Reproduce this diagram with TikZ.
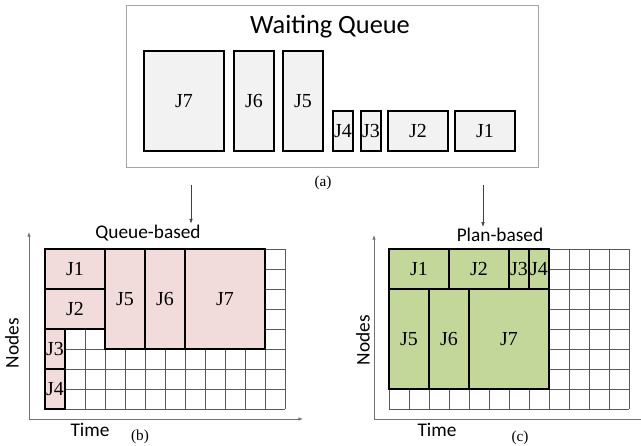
\documentclass[tikz,border=0pt]{standalone}
\usepackage{fontspec}
\setmainfont{Liberation Serif}
\newfontfamily\labelfont{Carlito}
\usetikzlibrary{positioning, arrows.meta}

\definecolor{waitgray}{HTML}{F2F2F2}
\definecolor{queuepink}{HTML}{F2DCDB}
\definecolor{plangreen}{HTML}{C4D79B}

\tikzset{
  job/.style={draw=black, line width=1.5pt, outer sep=0pt, inner sep=0pt, anchor=south west, font=\fontsize{17}{17}\selectfont},
  gridline/.style={draw=black!65, line width=0.5pt},
  axis/.style={draw=black!55, line width=0.6pt, -{Latex[length=4pt,width=3pt]}},
  feed/.style={draw=black!75, line width=0.5pt, -{Latex[length=4pt,width=3pt]}},
  title/.style={font=\labelfont\fontsize{16.5}{16.5}\selectfont, inner sep=1pt},
  caption/.style={font=\fontsize{13}{13}\selectfont},
}

\begin{document}
\begin{tikzpicture}[x=0.6cm, y=0.6cm]
\useasboundingbox (0,0) rectangle (32.05,22.3);

% Waiting queue
\node[draw=black!35, line width=0.8pt, minimum width=20.6*0.6cm, minimum height=8.1*0.6cm, anchor=south west, inner sep=0pt, outer sep=0pt] (queue) at (6.3,13.95) {};
\node[font=\labelfont\fontsize{22.5}{22.5}\selectfont] (qname) at (16.5,20.95) {Waiting Queue};
% Jobs, largest first
\foreach \n/\x/\w/\h in {7/7.2/4/5, 6/11.7/2/5, 5/14.15/2/5, 4/16.65/1/2, 3/18.05/1/2, 2/19.4/3/2, 1/22.75/3/2} {
    \node[job, fill=waitgray, minimum width=\w*0.6cm, minimum height=\h*0.6cm] (aJ\n) at (\x,14.75) {J\n};
}
\node[caption] (capa) at (16.15,13.15) {(a)};

% Queue-based
\begin{scope}[shift={(2.25,1.85)}]
\draw[gridline, step=1] (0,0) grid (12,8);
\foreach \n/\x/\y/\w/\h in {1/0/6/3/2, 2/0/4/3/2, 3/0/2/1/2, 4/0/0/1/2, 5/3/3/2/5, 6/5/3/2/5, 7/7/3/4/5} {
    \node[job, fill=queuepink, minimum width=\w*0.6cm, minimum height=\h*0.6cm] (bJ\n) at (\x,\y) {J\n};
}
\end{scope}
\coordinate (bO) at (1.45,1.35);
\coordinate (bY) at (1.45,10.7);
\coordinate (bX) at (15.15,1.35);
\draw[axis] (bO) -- (bY);
\draw[axis] (bO) -- (bX);
\node[title] (qtitle) at (7.4,10.65) {Queue-based};
\coordinate (qfeed) at (9.55,13.05);
\draw[feed] (qfeed) -- (qfeed |- qtitle.north);
\node[title, rotate=90] (bnodes) at (0.6,5.15) {Nodes};
\node[title] (btime) at (4.5,0.8) {Time};
\node[caption] (capb) at (7.0,0.45) {(b)};

% Plan-based
\begin{scope}[shift={(19.45,1.85)}]
\draw[gridline, step=1] (0,0) grid (12,8);
\foreach \n/\x/\y/\w/\h in {1/0/6/3/2, 2/3/6/3/2, 3/6/6/1/2, 4/7/6/1/2, 5/0/1/2/5, 6/2/1/2/5, 7/4/1/4/5} {
    \node[job, fill=plangreen, minimum width=\w*0.6cm, minimum height=\h*0.6cm] (cJ\n) at (\x,\y) {J\n};
}
\end{scope}
\coordinate (cO) at (18.7,1.35);
\coordinate (cY) at (18.7,10.55);
\coordinate (cX) at (32.05,1.35);
\draw[axis] (cO) -- (cY);
\draw[axis, -] (cO) -- (cX);
\node[title] (ptitle) at (25.0,10.55) {Plan-based};
\coordinate (pfeed) at (24.15,13.05);
\draw[feed] (pfeed) -- (pfeed |- ptitle.north);
\node[title, rotate=90] (cnodes) at (18.15,5.3) {Nodes};
\node[title] (ctime) at (21.85,0.8) {Time};
\node[caption] (capc) at (26.0,0.4) {(c)};

\end{tikzpicture}
\end{document}
